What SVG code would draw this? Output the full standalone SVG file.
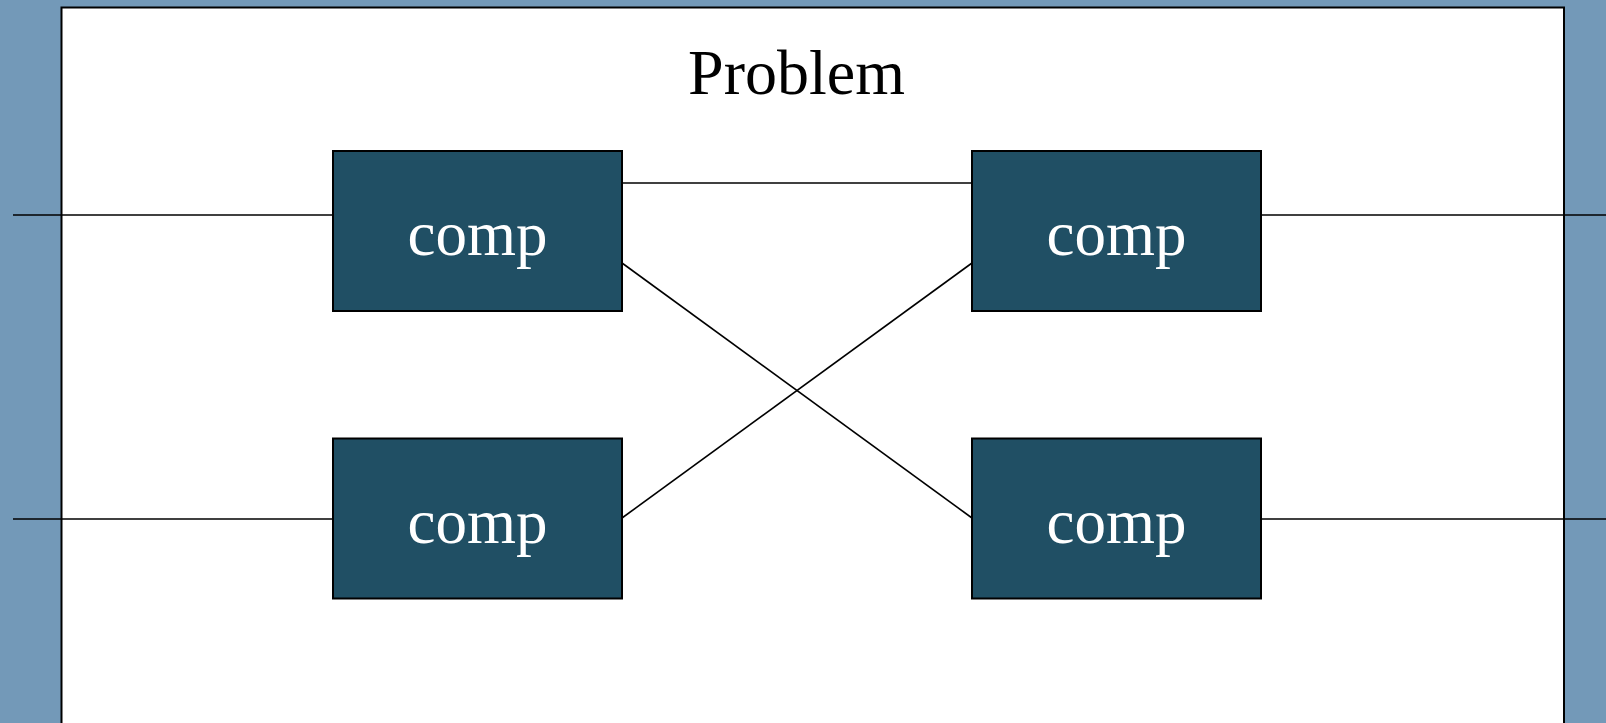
<svg xmlns="http://www.w3.org/2000/svg" width="1606" height="723" viewBox="0 0 1606 723">
  <style>
    .panel { fill: #ffffff; stroke: #000000; stroke-width: 2; }
    .comp rect { fill: #204f64; stroke: #000000; stroke-width: 2; }
    .comp text { fill: #ffffff; font-family: "Liberation Serif", "Times New Roman", serif; font-size: 63px; text-anchor: middle; }
    .wire { stroke: #000000; stroke-width: 1.6; fill: none; }
    .title { fill: #000000; font-family: "Liberation Serif", "Times New Roman", serif; font-size: 64px; text-anchor: middle; }
  </style>
  <rect x="0" y="0" width="1606" height="723" fill="#7399b8"/>
  <rect class="panel" x="61.5" y="7.5" width="1502.5" height="730"/>
  <text class="title" x="796.5" y="93.5">Problem</text>

  <g id="connectors">
    <line class="wire" x1="13" y1="215" x2="333" y2="215"/>
    <line class="wire" x1="13" y1="519" x2="333" y2="519"/>
    <line class="wire" x1="622" y1="183" x2="972" y2="183"/>
    <line class="wire" x1="622" y1="263" x2="972" y2="518"/>
    <line class="wire" x1="622" y1="518" x2="972" y2="263"/>
    <line class="wire" x1="1261" y1="215" x2="1606" y2="215"/>
    <line class="wire" x1="1261" y1="519" x2="1606" y2="519"/>
  </g>

  <g id="comp-top-left" class="comp">
    <rect x="333" y="151" width="289" height="160"/>
    <text x="477.5" y="255">comp</text>
  </g>
  <g id="comp-bottom-left" class="comp">
    <rect x="333" y="438.5" width="289" height="160"/>
    <text x="477.5" y="542.5">comp</text>
  </g>
  <g id="comp-top-right" class="comp">
    <rect x="972" y="151" width="289" height="160"/>
    <text x="1116.5" y="255">comp</text>
  </g>
  <g id="comp-bottom-right" class="comp">
    <rect x="972" y="438.5" width="289" height="160"/>
    <text x="1116.5" y="542.5">comp</text>
  </g>
</svg>
